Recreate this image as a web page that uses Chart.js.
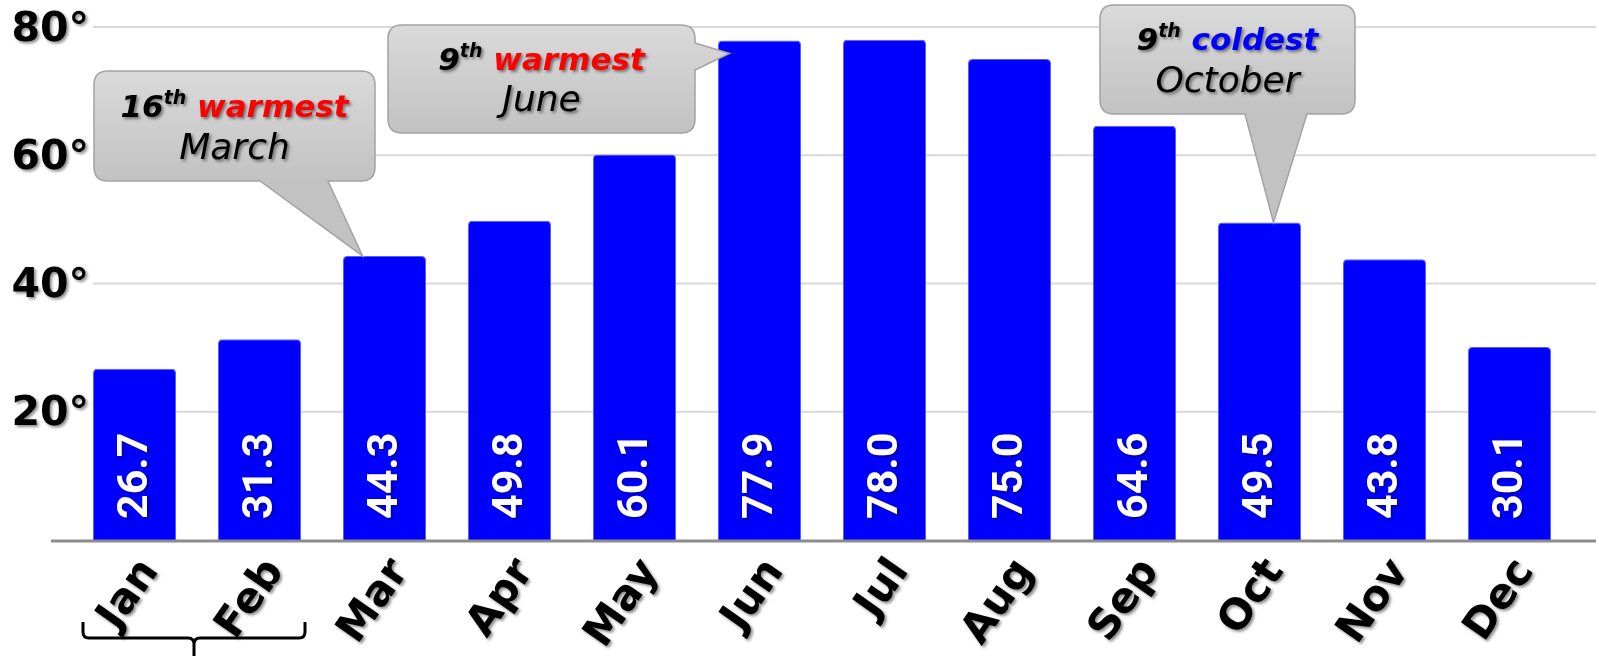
<!DOCTYPE html>
<html>
<head>
<meta charset="utf-8">
<script src="https://cdn.jsdelivr.net/npm/chart.js@4.4.1/dist/chart.umd.min.js"></script>
<style>
  html, body { margin: 0; padding: 0; background: #fff; }
  #wrap { width: 1599px; height: 656px; position: relative; }
</style>
</head>
<body>
<div id="wrap"><canvas id="temps"></canvas></div>
<script>
// Monthly average temperatures
const months = ['Jan', 'Feb', 'Mar', 'Apr', 'May', 'Jun', 'Jul', 'Aug', 'Sep', 'Oct', 'Nov', 'Dec'];
const avgTemps = [26.7, 31.3, 44.3, 49.8, 60.1, 77.9, 78.0, 75.0, 64.6, 49.5, 43.8, 30.1];
const yTicks = [20, 40, 60, 80];

// callout texts
const noteMonths = [2, 5, 9];
const noteRanks = ['16', '9', '9'];
const noteWords = ['warmest', 'warmest', 'coldest'];
const noteColors = ['#ff0000', '#ff0000', '#0000ff'];
const noteNames = ['March', 'June', 'October'];

const FONT = '"DejaVu Sans", sans-serif';

function shadowOn(ctx) {
  ctx.shadowColor = 'rgba(0,0,0,0.45)';
  ctx.shadowOffsetX = 2;
  ctx.shadowOffsetY = 2;
  ctx.shadowBlur = 3;
}
function shadowOff(ctx) {
  ctx.shadowColor = 'rgba(0,0,0,0)';
  ctx.shadowOffsetX = 0;
  ctx.shadowOffsetY = 0;
  ctx.shadowBlur = 0;
}

// rounded box with a pointer on the bottom or right edge
function calloutPath(ctx, x, y, w, h, r, side, a, b, tip) {
  ctx.beginPath();
  ctx.moveTo(x + r, y);
  ctx.lineTo(x + w - r, y);
  ctx.quadraticCurveTo(x + w, y, x + w, y + r);
  if (side === 'right') {
    ctx.lineTo(x + w, a);
    ctx.lineTo(tip[0], tip[1]);
    ctx.lineTo(x + w, b);
  }
  ctx.lineTo(x + w, y + h - r);
  ctx.quadraticCurveTo(x + w, y + h, x + w - r, y + h);
  if (side === 'bottom') {
    ctx.lineTo(b, y + h);
    ctx.lineTo(tip[0], tip[1]);
    ctx.lineTo(a, y + h);
  }
  ctx.lineTo(x + r, y + h);
  ctx.quadraticCurveTo(x, y + h, x, y + h - r);
  ctx.lineTo(x, y + r);
  ctx.quadraticCurveTo(x, y, x + r, y);
  ctx.closePath();
}

const decorations = {
  id: 'decorations',
  beforeDatasetsDraw(chart) {
    const ctx = chart.ctx;
    const ys = chart.scales.y;
    ctx.save();
    // grid lines
    ctx.strokeStyle = '#d9d9d9';
    ctx.lineWidth = 2;
    yTicks.forEach(v => {
      const y = ys.getPixelForValue(v);
      ctx.beginPath();
      ctx.moveTo(51, y);
      ctx.lineTo(1596, y);
      ctx.stroke();
    });
    // y labels
    ctx.font = 'bold 41px ' + FONT;
    ctx.textAlign = 'right';
    ctx.textBaseline = 'middle';
    yTicks.forEach(v => {
      const y = ys.getPixelForValue(v);
      const txt = v + '°';
      const w = ctx.measureText(txt).width;
      ctx.fillStyle = '#fff';
      ctx.fillRect(89 - w - 4, y - 4, w + 8, 8);
      shadowOn(ctx);
      ctx.fillStyle = '#000';
      ctx.fillText(txt, 89, y + 3);
      shadowOff(ctx);
    });
    ctx.restore();
  },
  afterDatasetsDraw(chart) {
    const ctx = chart.ctx;
    const meta = chart.getDatasetMeta(0);
    const base = chart.scales.y.getPixelForValue(0);
    ctx.save();
    // value labels inside the bars
    ctx.font = 'bold 43px Roboto, sans-serif';
    ctx.fillStyle = '#fff';
    ctx.textAlign = 'left';
    ctx.textBaseline = 'middle';
    shadowOn(ctx);
    ctx.shadowColor = 'rgba(0,0,0,0.35)';
    meta.data.forEach((bar, i) => {
      ctx.save();
      ctx.translate(bar.x, base - 21);
      ctx.rotate(-Math.PI / 2);
      ctx.fillText(avgTemps[i].toFixed(1), 0, 2);
      ctx.restore();
    });
    shadowOff(ctx);
    // category axis line
    ctx.strokeStyle = '#8c8c8c';
    ctx.lineWidth = 3;
    ctx.beginPath();
    ctx.moveTo(51, base + 1);
    ctx.lineTo(1596, base + 1);
    ctx.stroke();
    ctx.restore();
    // leave a shadow on for the x tick labels (drawn next, z = 1)
    shadowOn(ctx);
  },
  afterDraw(chart) {
    const ctx = chart.ctx;
    shadowOff(ctx);
    const meta = chart.getDatasetMeta(0);
    const bars = meta.data;

    // bracket below Jan / Feb
    const xL = bars[0].x - bars[0].width / 2 - 10;
    const xR = bars[1].x + bars[1].width / 2 + 4;
    const xM = (xL + xR) / 2;
    ctx.save();
    ctx.strokeStyle = '#000';
    ctx.lineWidth = 3;
    ctx.lineJoin = 'round';
    ctx.beginPath();
    ctx.moveTo(xL, 622);
    ctx.lineTo(xL, 632);
    ctx.quadraticCurveTo(xL, 638, xL + 6, 638);
    ctx.lineTo(xM - 6, 638);
    ctx.quadraticCurveTo(xM, 638, xM, 644);
    ctx.lineTo(xM, 660);
    ctx.moveTo(xM, 644);
    ctx.quadraticCurveTo(xM, 638, xM + 6, 638);
    ctx.lineTo(xR - 6, 638);
    ctx.quadraticCurveTo(xR, 638, xR, 632);
    ctx.lineTo(xR, 622);
    ctx.stroke();
    ctx.restore();

    // callouts
    const boxes = [
      { x: 94, y: 71, w: 281, h: 110, side: 'bottom', a: 260, b: 328, dx: -22, dy: 0, l1: 105, l2: 150 },
      { x: 388, y: 25, w: 307, h: 108, side: 'right', a: 43, b: 70, dx: -30, dy: 13, l1: 58, l2: 102 },
      { x: 1100, y: 5, w: 255, h: 109, side: 'bottom', a: 1245, b: 1307, dx: 14, dy: 0, l1: 38, l2: 83 }
    ];
    boxes.forEach((bx, k) => {
      const bar = bars[noteMonths[k]];
      const tip = [bar.x + bx.dx, bar.y + bx.dy];
      ctx.save();
      const g = ctx.createLinearGradient(0, bx.y, 0, bx.y + bx.h);
      g.addColorStop(0, '#dadada');
      g.addColorStop(1, '#c2c2c2');
      calloutPath(ctx, bx.x, bx.y, bx.w, bx.h, 14, bx.side, bx.a, bx.b, tip);
      ctx.fillStyle = g;
      ctx.fill();
      ctx.strokeStyle = '#a3a3a3';
      ctx.lineWidth = 1.5;
      ctx.stroke();

      // line 1: rank + "th" + word
      const cx = bx.x + bx.w / 2;
      const big = 'italic bold 31px ' + FONT;
      const small = 'italic bold 19px ' + FONT;
      ctx.font = big;
      const wRank = ctx.measureText(noteRanks[k]).width;
      const wSpace = ctx.measureText(' ').width;
      const wWord = ctx.measureText(noteWords[k]).width;
      ctx.font = small;
      const wTh = ctx.measureText('th').width;
      let x0 = cx - (wRank + wTh + wSpace + wWord) / 2;
      ctx.textAlign = 'left';
      ctx.textBaseline = 'alphabetic';
      shadowOn(ctx);
      ctx.fillStyle = '#000';
      ctx.font = big;
      ctx.fillText(noteRanks[k], x0, bx.l1 + 12);
      x0 += wRank;
      ctx.font = small;
      ctx.fillText('th', x0, bx.l1 - 1);
      x0 += wTh + wSpace;
      ctx.font = big;
      ctx.fillStyle = noteColors[k];
      ctx.fillText(noteWords[k], x0, bx.l1 + 12);

      // line 2: month name
      ctx.font = 'italic 36px ' + FONT;
      ctx.fillStyle = '#000';
      ctx.textAlign = 'center';
      ctx.textBaseline = 'middle';
      ctx.fillText(noteNames[k], cx, bx.l2);
      ctx.restore();
    });
  }
};

new Chart(document.getElementById('temps'), {
  type: 'bar',
  data: {
    labels: months,
    datasets: [{
      data: avgTemps,
      backgroundColor: '#0000ff',
      borderColor: '#5c5cff',
      borderWidth: 1,
      borderRadius: { topLeft: 4, topRight: 4 },
      borderSkipped: 'bottom',
      categoryPercentage: 1,
      barPercentage: 0.664
    }]
  },
  options: {
    responsive: true,
    maintainAspectRatio: false,
    animation: false,
    events: [],
    layout: { padding: { top: 27, left: 72, right: 27, bottom: 0 } },
    plugins: { legend: { display: false }, tooltip: { enabled: false } },
    scales: {
      x: {
        grid: { display: false },
        border: { display: false },
        ticks: {
          z: 1,
          autoSkip: false,
          minRotation: 55,
          maxRotation: 55,
          padding: 2,
          labelOffset: 16,
          color: '#000',
          font: { family: 'DejaVu Sans', weight: 'bold', size: 42 }
        },
        afterFit(scale) { scale.height = 116; }
      },
      y: {
        display: false,
        min: 0,
        max: 80
      }
    }
  },
  plugins: [decorations]
});
</script>
</body>
</html>
